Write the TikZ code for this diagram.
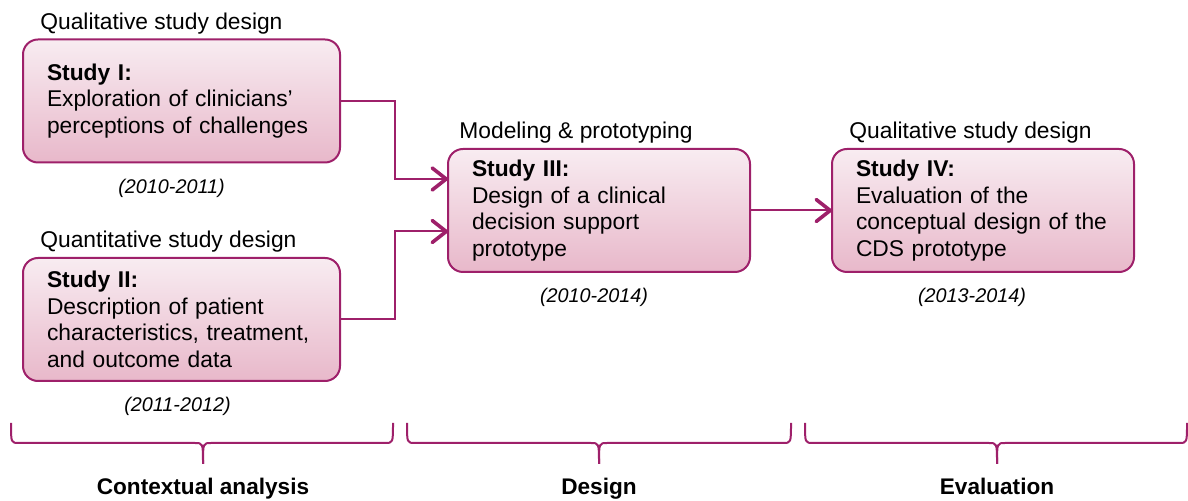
\documentclass[tikz,border=0pt]{standalone}
\usepackage{fontspec}
\setmainfont{Liberation Sans}
\usetikzlibrary{arrows.meta}

\definecolor{plum}{RGB}{158,32,106}
\definecolor{pinktop}{RGB}{248,236,241}
\definecolor{pinkbot}{RGB}{232,184,202}

\tikzset{
  study/.style={draw=plum, line width=1pt, rounded corners=7.5pt, top color=pinktop, bottom color=pinkbot,
    text width=#1, align=left, inner xsep=12pt, minimum height=61.5pt, outer sep=0pt,
    font=\fontsize{11.4}{13.25}\selectfont},
  design/.style={anchor=base west, inner sep=0pt, font=\fontsize{11.4}{13}\selectfont},
  period/.style={anchor=base, inner sep=0pt, font=\fontsize{9.9}{12}\selectfont\itshape},
  phase/.style={anchor=base, inner sep=0pt, font=\fontsize{11.3}{13}\selectfont\bfseries},
  link/.style={draw=plum, line width=1pt, -{Straight Barb[length=7pt,width=11pt,line width=1.8pt,round]}},
  phasebrace/.style={draw=plum, line width=1pt}
}

\begin{document}
\begin{tikzpicture}[x=0.5pt,y=-0.5pt]
\useasboundingbox (0,0) rectangle (1188,501);

\node[study=134.5pt] (studyI) at (181.5,101) {\textbf{Study I:}\\Exploration of clinicians'\\perceptions of challenges};
\node[study=134.5pt] (studyII) at (181.5,319.5) {\textbf{Study II:}\\Description of patient\\characteristics, treatment,\\and outcome data};
\node[study=127pt] (studyIII) at (599,210.5) {\textbf{Study III:}\\Design of a clinical\\decision support\\prototype};
\node[study=127pt] (studyIV) at (983,210.5) {\textbf{Study IV:}\\Evaluation of the\\conceptual design of the\\CDS prototype};

\node[design] (designI) at ([shift={(17,-10)}]studyI.north west) {Qualitative study design};
\node[design] (designII) at ([shift={(17,-10)}]studyII.north west) {Quantitative study design};
\node[design] (designIII) at ([shift={(11,-10)}]studyIII.north west) {Modeling \& prototyping};
\node[design] (designIV) at ([shift={(17,-10)}]studyIV.north west) {Qualitative study design};

\node[period] (dateI) at ([shift={(-10,31)}]studyI.south) {(2010-2011)};
\node[period] (dateII) at ([shift={(-4,31)}]studyII.south) {(2011-2012)};
\node[period] (dateIII) at ([shift={(-5,31)}]studyIII.south) {(2010-2014)};
\node[period] (dateIV) at ([shift={(-11,31)}]studyIV.south) {(2013-2014)};

\draw[link] (studyI.east) -- ++(55,0) |- ([shift={(0,-31.5)}]studyIII.west);
\draw[link] (studyII.east) -- ++(55,0) |- ([shift={(0,21)}]studyIII.west);
\draw[link] (studyIII) -- (studyIV);

% braces under the three phases
\foreach \l/\m/\r/\name/\txt in {11/203/393/ctx/Contextual analysis, 407/599/791/des/Design, 805/997/1187/eval/Evaluation}{
  \draw[phasebrace] (\l,423) .. controls (\l,443) .. (\l+8,443) -- (\m-8,443) .. controls (\m,443) .. (\m,464);
  \draw[phasebrace] (\m,464) .. controls (\m,443) .. (\m+8,443) -- (\r-8,443) .. controls (\r,443) .. (\r,423);
  \node[phase] (\name) at (\m,495) {\txt};
}
\end{tikzpicture}
\end{document}
